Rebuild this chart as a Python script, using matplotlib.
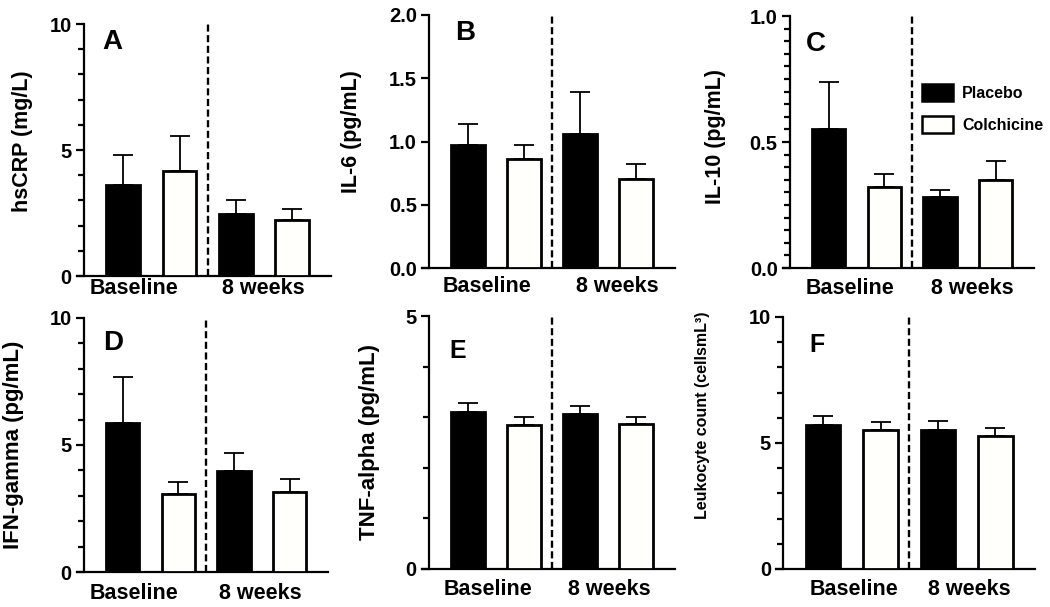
import matplotlib
matplotlib.use("Agg")
import matplotlib.pyplot as plt
from matplotlib.patches import Patch
from matplotlib.ticker import MultipleLocator, FormatStrFormatter

plt.rcParams.update({"font.family": ["Liberation Sans", "DejaVu Sans"], "font.weight": "bold",
                     "axes.linewidth": 1.6})

groups = ["Baseline", "8 weeks"]

# panel values: mean and upper error (SEM) per group
hscrp_placebo, hscrp_placebo_err = [3.62, 2.45], [1.18, 0.56]
hscrp_colch, hscrp_colch_err = [4.17, 2.22], [1.38, 0.44]
il6_placebo, il6_placebo_err = [0.97, 1.06], [0.17, 0.33]
il6_colch, il6_colch_err = [0.86, 0.70], [0.11, 0.12]
il10_placebo, il10_placebo_err = [0.55, 0.28], [0.19, 0.03]
il10_colch, il10_colch_err = [0.32, 0.35], [0.055, 0.075]
ifn_placebo, ifn_placebo_err = [5.87, 3.97], [1.81, 0.71]
ifn_colch, ifn_colch_err = [3.07, 3.15], [0.47, 0.51]
tnf_placebo, tnf_placebo_err = [3.10, 3.06], [0.18, 0.16]
tnf_colch, tnf_colch_err = [2.85, 2.86], [0.15, 0.14]
wbc_placebo, wbc_placebo_err = [5.71, 5.50], [0.35, 0.37]
wbc_colch, wbc_colch_err = [5.50, 5.28], [0.33, 0.32]

W, H = 1050, 607
# letter, ylabel, data, (ymax, major, minor, fmt), layout in pixels
panels = [
    ("A", "hsCRP (mg/L)", (hscrp_placebo, hscrp_placebo_err, hscrp_colch, hscrp_colch_err),
     (10, 5, 1, "%d"), dict(box=(77, 24, 331, 276), lab=(55, 0.536), let=(0.14, 0.93, 20),
                            xt=(0.2, 2.48), xpad=1.5, ylfs=15.5)),
    ("B", "IL-6 (pg/mL)", (il6_placebo, il6_placebo_err, il6_colch, il6_colch_err),
     (2.0, 0.5, None, "%.1f"), dict(box=(422, 15, 675, 268), lab=(70, 0.54), let=(0.17, 0.93, 20),
                                    xt=(0.33, 2.67), xpad=6, ylfs=15.5)),
    ("C", "IL-10 (pg/mL)", (il10_placebo, il10_placebo_err, il10_colch, il10_colch_err),
     (1.0, 0.5, 0.05, "%.1f"), dict(box=(783, 16, 1034, 268), lab=(67, 0.52), let=(0.13, 0.89, 20),
                                    xt=(0.38, 2.59), xpad=7, ylfs=15.5)),
    ("D", "IFN-gamma (pg/mL)", (ifn_placebo, ifn_placebo_err, ifn_colch, ifn_colch_err),
     (10, 5, 1, "%d"), dict(box=(77, 318, 328, 572), lab=(63, 0.5), let=(0.145, 0.9, 20),
                            xt=(0.2, 2.48), xpad=8, ylfs=16)),
    ("E", "TNF-alpha (pg/mL)", (tnf_placebo, tnf_placebo_err, tnf_colch, tnf_colch_err),
     (5, 5, 1, "%d"), dict(box=(422, 316, 675, 569), lab=(53, 0.5), let=(0.14, 0.86, 18),
                           xt=(0.36, 2.52), xpad=7, ylfs=16)),
    ("F", "Leukocyte count (cellsmL³)", (wbc_placebo, wbc_placebo_err, wbc_colch, wbc_colch_err),
     (10, 5, 1, "%d"), dict(box=(776, 317, 1035, 569), lab=(73, 0.61), let=(0.16, 0.89, 18),
                            xt=(0.53, 2.55), xpad=7, ylfs=11.5)),
]

fig = plt.figure(figsize=(W / 100, H / 100), dpi=100)
pos_placebo = [0, 2]
pos_colch = [1, 3]
bw = 0.6

for letter, ylabel, (pm, pe, cm, ce), (ymax, major, minor, fmt), lay in panels:
    x0, y0, x1, y1 = lay["box"]
    ax = fig.add_axes([x0 / W, 1 - y1 / H, (x1 - x0) / W, (y1 - y0) / H])
    ekw = dict(elinewidth=1.3, capthick=1.3, ecolor="black")
    ax.bar(pos_placebo, pm, bw, color="black", edgecolor="black", lw=2.0, zorder=3,
           yerr=[[0, 0], pe], capsize=7, error_kw=ekw)
    ax.bar(pos_colch, cm, bw, color="#fffffb", edgecolor="black", lw=2.0, zorder=3,
           yerr=[[0, 0], ce], capsize=7, error_kw=ekw)
    ax.axvline(1.5, color="black", lw=1.7, ls=(0, (3.0, 1.5)), zorder=2)

    ax.set_xlim(-0.82, 3.69)
    ax.set_ylim(0, ymax)
    ax.spines[["top", "right"]].set_visible(False)
    ax.spines["left"].set_position(("data", -0.69))
    ax.set_xticks(lay["xt"])
    ax.set_xticklabels(groups, fontsize=15.5, fontweight="bold")
    ax.tick_params(axis="x", length=0, pad=lay["xpad"])
    ax.yaxis.set_major_locator(MultipleLocator(major))
    ax.yaxis.set_major_formatter(FormatStrFormatter(fmt))
    if minor:
        ax.yaxis.set_minor_locator(MultipleLocator(minor))
        ax.tick_params(axis="y", which="minor", left=True, length=4.5, width=1.6, color="black")
    ax.tick_params(axis="y", which="major", length=6, width=1.6, pad=3, labelsize=14.5)

    ax.set_ylabel(ylabel, fontsize=lay["ylfs"], fontweight="bold", va="center")
    ax.yaxis.set_label_coords(-lay["lab"][0] / (x1 - x0), lay["lab"][1])
    lx, ly, lfs = lay["let"]
    ax.text(lx, ly, letter, transform=ax.transAxes, ha="center", va="center",
            fontsize=lfs, fontweight="bold")

    if letter == "C":
        handles = [Patch(facecolor="black", edgecolor="black", lw=1.8, label="Placebo"),
                   Patch(facecolor="#fffffb", edgecolor="black", lw=1.8, label="Colchicine")]
        ax.legend(handles=handles, loc="upper left", bbox_to_anchor=(0.555, 0.73), frameon=False,
                  borderaxespad=0, borderpad=0, handlelength=1.9, handleheight=1.3,
                  labelspacing=0.9, handletextpad=0.6,
                  prop={"size": 11.5, "weight": "bold"})

fig.savefig("out.png", dpi=100)
